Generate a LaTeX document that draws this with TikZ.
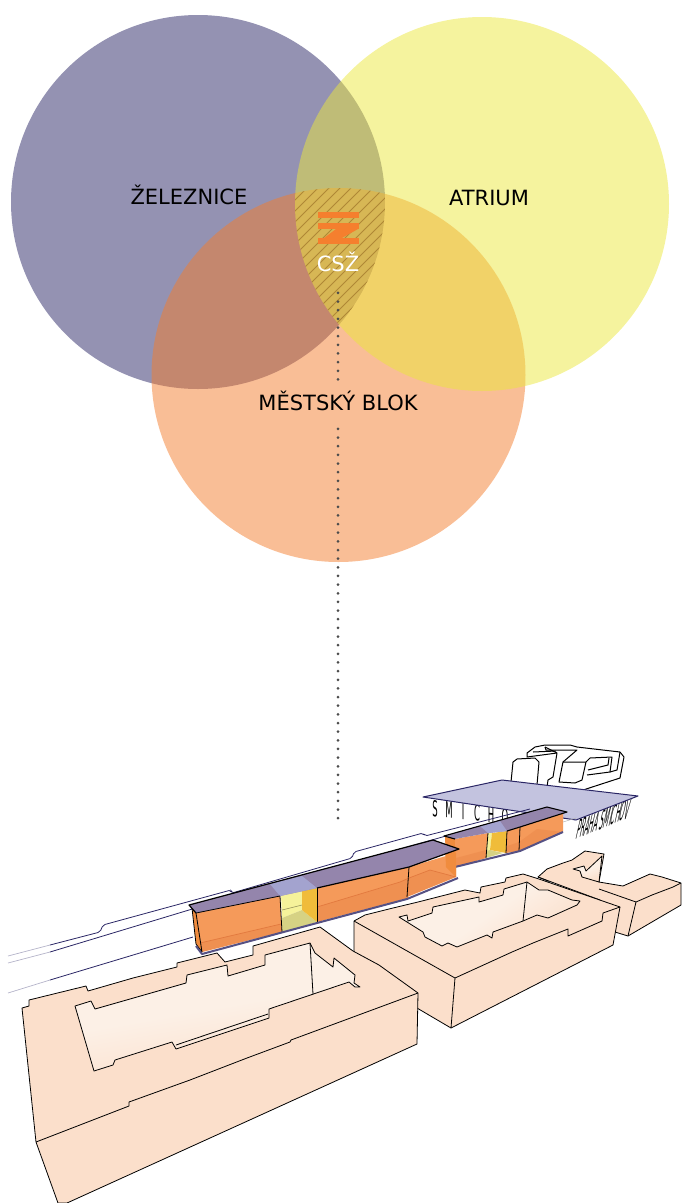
\documentclass[tikz,border=0pt]{standalone}
\usepackage{fontspec}
\setmainfont{DejaVu Sans}
\usetikzlibrary{positioning, calc}

\definecolor{navyline}{HTML}{2A2665}
\definecolor{circlepurple}{HTML}{2A2665}
\definecolor{circleyellow}{HTML}{EBE73D}
\definecolor{circleorange}{HTML}{F37D2D}
\definecolor{logoorange}{HTML}{F57F2E}
\definecolor{blockfill}{HTML}{FBDFCB}
\definecolor{courtfill}{HTML}{FCF0E6}
\definecolor{canopyfill}{HTML}{C3C3DF}
\definecolor{roofpurple}{HTML}{9485AC}
\definecolor{roofpale}{HTML}{A3A3CF}
\definecolor{facade}{HTML}{F59A5A}
\definecolor{facadeside}{HTML}{F08C3E}
\definecolor{floorshade}{HTML}{DC6E35}
\definecolor{gapyellow}{HTML}{F5F29A}
\definecolor{gapfloor}{HTML}{D6D284}
\definecolor{gapside}{HTML}{F0BC3A}

\tikzset{
    venn/.style={circle, minimum size=374pt, inner sep=0pt, opacity=0.5},
    vennlabel/.style={font=\fontsize{21}{24}\selectfont, text=black},
    dotline/.style={draw=black!70, line width=3pt, line cap=round, dash pattern=on 0pt off 8.65pt},
    block/.style={draw=black, line width=0.8pt, fill=blockfill, line join=round},
    edge/.style={draw=black, line width=0.8pt, line join=round},
    court/.style={draw=black, line width=0.8pt, top color=blockfill, bottom color=courtfill, middle color=courtfill, line join=round},
    rail/.style={draw=navyline, line width=0.8pt, rounded corners=2pt},
    railfade/.style={draw=navyline!35, line width=0.7pt},
    baseplate/.style={draw=navyline!80!white, line width=2pt, line join=round},
    floorband/.style={fill=floorshade, fill opacity=0.22},
    floorline/.style={draw=floorshade, line width=0.7pt, draw opacity=0.7},
    bldg/.style={draw=black, line width=1pt, line join=round, fill=white},
    bldgline/.style={draw=black, line width=1pt, line join=round},
    stationletter/.style={inner sep=0pt, font=\fontsize{10}{10}\selectfont, text=black},
}

\begin{document}
\begin{tikzpicture}[x=1pt, y=-1pt]

    \useasboundingbox (0,0) rectangle (681,1203);

    % ============================================================
    % THREE CIRCLES
    % ============================================================
    \node[venn, fill=circlepurple] (zeleznice) at (198,202) {};
    \node[venn, fill=circleorange] (blokcircle) at (338.5,375) {};
    \node[venn, fill=circleyellow] (atrium) at (482,204) {};

    % ============================================================
    % HATCHED COMMON PART
    % ============================================================
    \begin{scope}
        \clip (198,202) circle (187pt);
        \clip (482,204) circle (187pt);
        \clip (338.5,375) circle (187pt);
        \foreach \h in {100,111,...,480} {
            \draw[black!60!orange, opacity=0.35, line width=0.8pt] (\h,340) -- (\h+200,140);
        }
    \end{scope}

    % ============================================================
    % LOGO
    % ============================================================
    \fill[logoorange] (318,212) rectangle (359,218);
    \fill[logoorange] (318,223) rectangle (359,229);
    \fill[logoorange] (318,238) rectangle (359,244);
    \fill[logoorange] (336,229) -- (358,229) -- (342,238) -- (324,238) -- cycle;

    % ============================================================
    % LABELS
    % ============================================================
    \node[vennlabel] (zeleznicelabel) at (189,195) {ŽELEZNICE};
    \node[vennlabel] (atriumlabel) at (489,197.5) {ATRIUM};
    \node[vennlabel] (bloklabel) at (338,400.5) {MĚSTSKÝ BLOK};
    \node[vennlabel, text=white] (csz) at (338,261.5) {CSŽ};

    \coordinate (stanice) at (338,822);
    \draw[dotline, shorten <=18pt, shorten >=5pt] (csz.south) -- (bloklabel.north);
    \draw[dotline, shorten <=15pt] (bloklabel.south) -- (stanice);

    % ============================================================
    % LETTERS UNDER THE CANOPY
    % ============================================================
    \foreach \ltr [count=\i from 0] in {S,M,I,C,H,O} {
        \node[stationletter, cm={0.85,-0.1,0,2.2,(0,0)}] (smichov\i) at (435+14*\i,808.5+1.6*\i) {\ltr};
    }
    \node[stationletter, cm={0.62,0.25,0.6,2.7,(0,0)}] (praha) at (604,819) {PRAHA SMICHOV};

    % ============================================================
    % BUILDINGS BEHIND THE CANOPY
    % ============================================================
    \draw[bldg] (511,782) -- (513,762) -- (517,759) -- (535,758) -- (539,762) -- (537,785) -- cycle;
    \draw[bldg] (547,787) -- (548,780) -- (553,777) -- (557,753) -- (527,757) -- (527,753)
        -- (535,747) -- (545,745) -- (570,745) -- (577,747) -- (620,752) -- (624,757)
        -- (620,778) -- (583,790) -- cycle;
    \draw[bldgline] (545,747) -- (546,750) -- (577,750) -- (563,762);
    \draw[bldgline] (533,752) -- (556,751);
    \draw[bldgline] (545,747) -- (557,753);
    \draw[bldgline] (559,782) -- (563,762) -- (586,762) -- (582,780) -- (575,783) -- cycle;
    \draw[bldgline] (586,762) -- (590,758) -- (612,757) -- (610,772) -- (587,775);
    \draw[bldgline] (588,770) -- (608,765) -- (609,758);
    \draw[bldgline] (620,752) -- (617,770) -- (610,772);

    % ============================================================
    % CANOPY
    % ============================================================
    \draw[fill=canopyfill, draw=navyline, line width=1pt, line join=round]
        (423,797) -- (502,780) -- (638,796) -- (576,820) -- cycle;

    % ============================================================
    % RAILS
    % ============================================================
    \draw[railfade] (8,956) -- (50,945);
    \draw[railfade] (8,963) -- (50,952);
    \draw[railfade] (8,993) -- (50,980);
    \draw[rail] (50,945) -- (100,932) -- (103,925) -- (231,890) -- (232,893) -- (352,858) -- (354,852)
        -- (423,833) -- (425,836) -- (530,809);
    \draw[rail] (50,952) -- (232,897) -- (530,812);
    \draw[rail] (50,980) -- (193,937);
    \draw[draw=black!30, line width=0.5pt] (563,822) -- (576,818);

    % ============================================================
    % SMALL STATION BUILDING
    % ============================================================
    \fill[facadeside] (445,837) -- (456,839) -- (456,867) -- (446,860) -- cycle;
    \fill[facade] (455,839) -- (488,833) -- (486,858) -- (456,867) -- cycle;
    \fill[gapyellow] (488,833) -- (492,833) -- (490,850) -- (486,851) -- cycle;
    \fill[gapfloor] (486,851) -- (490,850) -- (503,853) -- (486,858) -- cycle;
    \fill[gapside] (492,833) -- (507,831) -- (506,853) -- (490,850) -- cycle;
    \fill[facade] (507,831) -- (520,827) -- (519,851) -- (506,853) -- cycle;
    \fill[facade] (520,827) -- (563,812) -- (563,832) -- (519,851) -- cycle;
    \fill[floorband] (456,858) -- (486,850) -- (486,858) -- (456,867) -- cycle;
    \fill[floorband] (507,846) -- (519,842) -- (519,851) -- (506,853) -- cycle;
    \fill[floorband] (519,842) -- (537,829) -- (563,832) -- (519,851) -- cycle;
    \draw[edge] (488,833) -- (486,858);
    \draw[edge] (507,831) -- (506,853);
    \draw[edge] (520,827) -- (519,851);
    \draw[baseplate] (455,867) -- (520,851) -- (563,832);
    \fill[roofpurple] (444,836) -- (547,807) -- (567,812) -- (520,827) -- (507,831) -- (488,833) -- (455,839) -- cycle;
    \fill[roofpale] (480,826) -- (500,821) -- (507,831) -- (488,833) -- cycle;
    \draw[edge, line width=1.1pt] (455,839) -- (444,836) -- (547,807) -- (567,812) -- (520,827) -- (507,831);

    % ============================================================
    % LARGE STATION BUILDING
    % ============================================================
    \fill[facadeside] (192,908) -- (196,913) -- (202,952) -- (196,944) -- cycle;
    \fill[facade] (196,913) -- (280,896) -- (282,932) -- (202,952) -- cycle;
    \fill[gapyellow] (281,895) -- (302,891) -- (302,910) -- (282,918) -- cycle;
    \fill[gapfloor] (282,918) -- (302,910) -- (317,922) -- (282,932) -- cycle;
    \fill[gapside] (302,890) -- (317,888) -- (317,922) -- (302,910) -- cycle;
    \draw[gapfloor!70!black, line width=0.6pt] (282,910) -- (302,905);
    \fill[facade] (317,888) -- (409,867) -- (408,898) -- (317,922) -- cycle;
    \fill[facade] (409,867) -- (456,853) -- (456,877) -- (407,897) -- cycle;
    \fill[facadeside] (445,845) -- (456,853) -- (456,877) -- (446,867) -- cycle;
    \fill[floorband] (200,943) -- (281,924) -- (282,932) -- (202,952) -- cycle;
    \draw[floorline] (200,943) -- (281,924);
    \fill[floorband] (317,907) -- (400,882) -- (409,878) -- (408,898) -- (317,922) -- cycle;
    \draw[floorline] (317,907) -- (400,882) -- (409,878);
    \fill[floorband] (409,878) -- (430,870) -- (456,877) -- (407,897) -- cycle;
    \draw[floorline] (409,878) -- (430,870) -- (456,877);
    \draw[edge] (280,896) -- (282,932);
    \draw[edge] (317,888) -- (317,922);
    \draw[edge] (409,867) -- (407,897);
    \draw[edge] (192,908) -- (196,944) -- (202,952) -- (196,913);
    \draw[baseplate] (196,946) -- (202,954) -- (317,923) -- (407,899) -- (458,878);
    \fill[roofpurple] (189,905) -- (433,840) -- (459,849) -- (409,867) -- (317,888) -- (280,896) -- (196,913) -- cycle;
    \fill[roofpale] (270,884) -- (302,876) -- (317,888) -- (280,896) -- cycle;
    \draw[edge] (196,913) -- (280,896);
    \draw[edge, line width=1.2pt] (196,913) -- (189,905) -- (433,840) -- (459,849) -- (409,867) -- (317,888);

    % ============================================================
    % BACK BLOCK
    % ============================================================
    \draw[block] (538,877) -- (547,869) -- (563,863) -- (572,860) -- (585,851) -- (604,854) -- (599,882)
        -- (623,886) -- (650,874) -- (662,877) -- (681,883) -- (681,905) -- (628,936) -- (615,932)
        -- (600,900) -- cycle;
    \draw[court, shading angle=200] (573,869) -- (584,866) -- (586,871) -- (602,856) -- (599,882) -- (582,877) -- (580,871) -- cycle;
    \draw[edge] (636,902) -- (628,936);
    \draw[edge] (636,902) -- (652,895) -- (673,887) -- (681,883);
    \draw[edge] (538,877) -- (548,881) -- (549,886) -- (572,892);
    \draw[edge] (599,889) -- (636,902);

    % ============================================================
    % MIDDLE BLOCK
    % ============================================================
    \draw[block] (354,921) -- (365,915) -- (393,908) -- (418,902) -- (465,890) -- (480,893) -- (481,887)
        -- (505,882) -- (506,878) -- (523,874) -- (539,879) -- (620,907) -- (613,945) -- (451,1028)
        -- (354,971) -- cycle;
    \draw[court, shading angle=215] (399,917) -- (407,915) -- (408,921) -- (432,913) -- (433,907) -- (479,897)
        -- (479,902) -- (503,895) -- (504,889) -- (527,882) -- (539,890) -- (548,890) -- (572,900)
        -- (580,901) -- (577,905) -- (548,918) -- (537,915) -- (523,921) -- (493,932) -- (492,938)
        -- (487,935) -- (457,947) -- (448,943) -- (442,946) -- (425,937) -- (423,932) -- cycle;
    \draw[edge] (527,882) -- (523,921);
    \draw[edge] (354,921) -- (455,978) -- (512,952) -- (533,943) -- (568,929) -- (568,936) -- (602,921)
        -- (603,913) -- (620,907);
    \draw[edge] (455,978) -- (451,1028);

    % ============================================================
    % FRONT BLOCK
    % ============================================================
    \draw[block] (22,1008) -- (29,1006) -- (29,1000) -- (86,986) -- (88,991) -- (133,978) -- (177,967)
        -- (177,963) -- (217,953) -- (225,962) -- (253,955) -- (253,946) -- (320,927) -- (353,951)
        -- (379,965) -- (418,993) -- (417,1044) -- (67,1203) -- (58,1203) -- (36,1142) -- cycle;
    \draw[court, shading angle=190] (75,1006) -- (91,1001) -- (95,1009) -- (186,983) -- (187,975) -- (227,965)
        -- (228,976) -- (265,965) -- (265,955) -- (310,943) -- (315,953) -- (333,967) -- (334,958)
        -- (355,975) -- (354,983) -- (360,987) -- (355,987) -- (349,982) -- (269,1009) -- (269,1018)
        -- (176,1049) -- (172,1042) -- (115,1060) -- (113,1065) -- (94,1071) -- cycle;
    \draw[edge] (310,943) -- (313,994);
    \draw[edge] (176,1045) -- (268,1014);
    \draw[edge] (36,1142) -- (129,1106) -- (129,1102) -- (190,1080) -- (247,1058) -- (290,1042)
        -- (291,1040) -- (418,993);

\end{tikzpicture}
\end{document}
